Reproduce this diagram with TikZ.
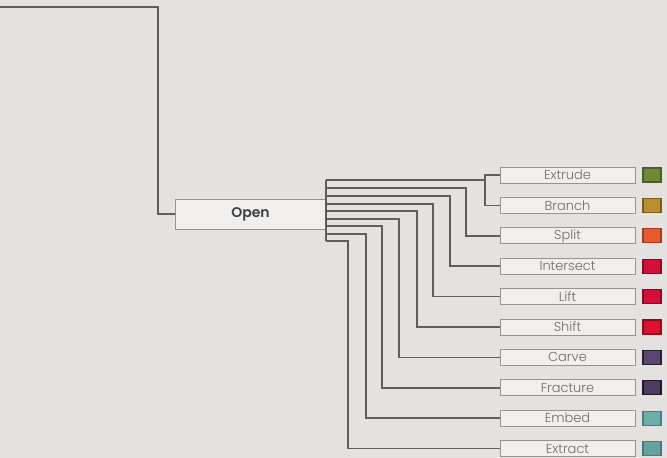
\documentclass[tikz,border=0pt]{standalone}
\usepackage{fontspec}
\setmainfont{Poppins}
\newfontfamily\lightfont{Poppins Light}
\newfontfamily\boldfont{Poppins SemiBold}
\definecolor{bg}{HTML}{E4E2E0}
\definecolor{boxfill}{HTML}{F0EFED}
\definecolor{boxline}{HTML}{969492}
\definecolor{wire}{HTML}{605E5C}
\definecolor{txt}{HTML}{6E6C6A}
\definecolor{cA}{HTML}{6E8A34}\definecolor{bA}{HTML}{4A5E22}
\definecolor{cB}{HTML}{B8902E}\definecolor{bB}{HTML}{7A5E1E}
\definecolor{cC}{HTML}{E85A30}\definecolor{bC}{HTML}{A83A20}
\definecolor{cD}{HTML}{D40F3A}\definecolor{bD}{HTML}{8A0A25}
\definecolor{cE}{HTML}{D40F3A}\definecolor{bE}{HTML}{8A0A25}
\definecolor{cF}{HTML}{E0102E}\definecolor{bF}{HTML}{900A20}
\definecolor{cG}{HTML}{5E4570}\definecolor{bG}{HTML}{2A1E30}
\definecolor{cH}{HTML}{4E3A5E}\definecolor{bH}{HTML}{201828}
\definecolor{cI}{HTML}{6AAFAA}\definecolor{bI}{HTML}{4A807C}
\definecolor{cJ}{HTML}{66A3A0}\definecolor{bJ}{HTML}{4A7A78}
\tikzset{
  wireline/.style={draw=wire, line width=1.5pt},
  openbox/.style={draw=boxline, fill=boxfill, line width=1pt, minimum width=151pt, minimum height=30pt, inner sep=0pt, font=\boldfont\fontsize{14}{14}\selectfont, text=black!75},
  lblbox/.style={draw=boxline, fill=boxfill, line width=1pt, minimum width=135pt, minimum height=16pt, inner sep=0pt, font=\lightfont\fontsize{13}{13}\selectfont, text=txt},
  swatch/.style={minimum width=18pt, minimum height=14pt, inner sep=0pt, line width=1.2pt}
}
\begin{document}
\begin{tikzpicture}[x=1pt,y=-1pt]
\fill[bg] (0,0) rectangle (667,458);
\useasboundingbox (0,0) rectangle (667,458);
\node[openbox] (open) at (250.5,214) {Open};
\coordinate (tl) at (0,7);
\draw[wireline] (tl) -- (158,7) |- (open.west);
% label boxes
\foreach \n/\t/\c [count=\i from 0] in {ext/Extrude/A,bra/Branch/B,spl/Split/C,int/Intersect/D,lif/Lift/E,shi/Shift/F,car/Carve/G,fra/Fracture/H,emb/Embed/I,xtr/Extract/J}{
  \node[lblbox] (\n) at (567.5,{175+30.4*\i}) {\t};
  \node[swatch, fill=c\c, draw=b\c] (sw\n) at (652,{175+30.4*\i}) {};
}
% trunk
\coordinate (t1) at (326,180);
\coordinate (t9) at (326,241);
\draw[wireline] (t1) -- (t9);
\foreach \y/\x/\n in {188/466/spl,196/450/int,204/433/lif,211/417/shi,219/399/car,226/382/fra,234/366/emb,241/348/xtr}{
  \draw[wireline] (326,\y) -- (\x,\y) |- (\n.west);
}
\draw[wireline] (t1) -- (485,180) -- (485,175) -- (ext.west);
\draw[wireline] (485,180) |- (bra.west);
\end{tikzpicture}
\end{document}
